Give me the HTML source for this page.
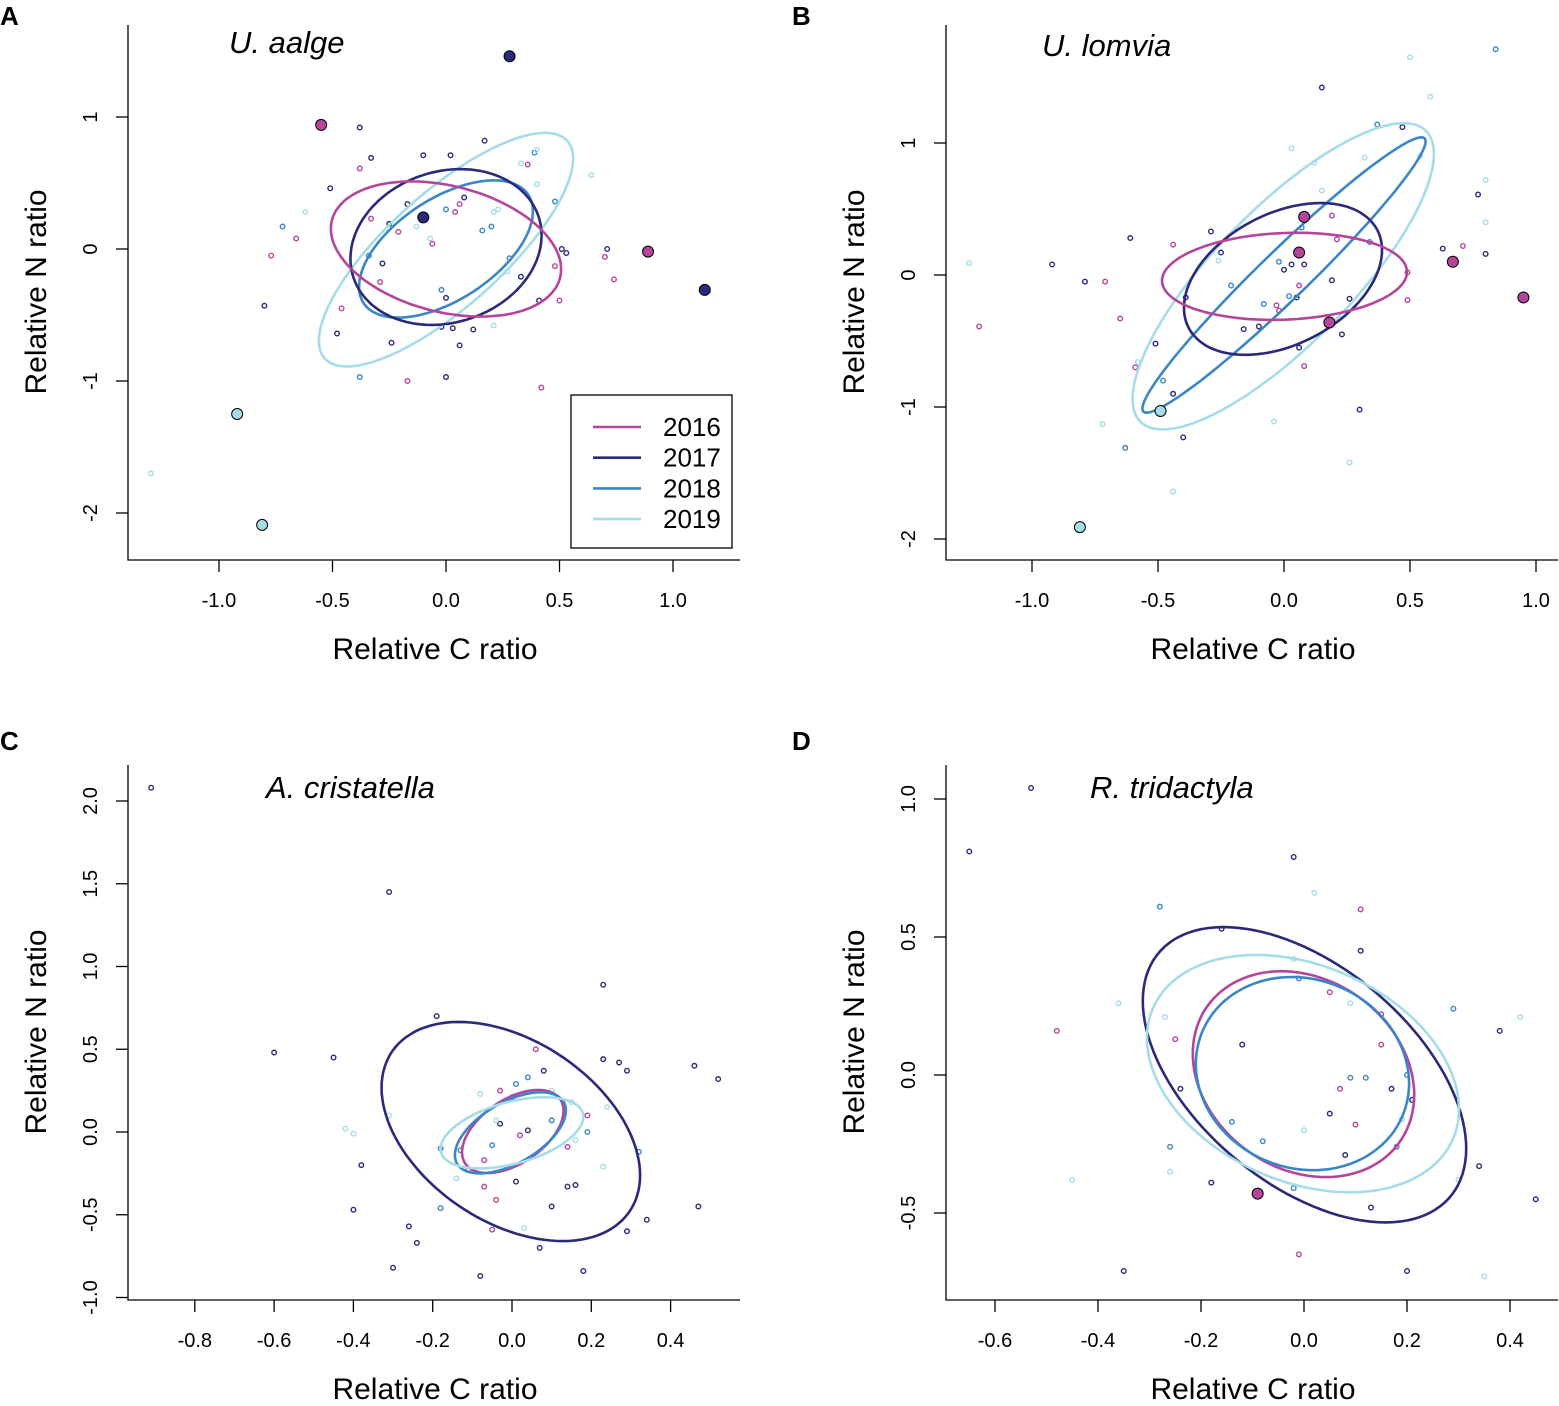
<!DOCTYPE html>
<html><head><meta charset="utf-8"><style>
body{margin:0;background:#fff;}
svg text{font-family:"Liberation Sans",Arial,sans-serif;fill:#000;}
</style></head><body>
<svg id="chart" width="1559" height="1401" viewBox="0 0 1559 1401" xmlns="http://www.w3.org/2000/svg"></svg>
<script>
const years = ["2016","2017","2018","2019"];
const colors = ["#B5459B","#2B2A7A","#3A86C8","#A6DCE8"];

// Panel A data
const aPts2016 = [[-0.77,-0.05],[-0.66,0.08],[-0.38,0.61],[-0.29,-0.25],[-0.33,0.23],[-0.21,0.13],[-0.17,-1.0],[0.04,0.28],[0.06,0.34],[0.36,0.64],[0.48,-0.13],[0.50,-0.39],[0.42,-1.05],[0.70,-0.06],[0.74,-0.23],[-0.06,0.04],[-0.46,-0.45]];
const aPts2017 = [[-0.38,0.92],[-0.33,0.69],[-0.51,0.46],[-0.80,-0.43],[-0.48,-0.64],[-0.28,-0.11],[-0.25,0.19],[-0.17,0.34],[-0.10,0.71],[0.02,0.71],[0,-0.37],[-0.02,-0.59],[0.03,-0.60],[0.06,-0.73],[0.12,-0.61],[0.17,0.82],[-0.24,-0.71],[0,-0.97],[0.33,-0.21],[0.51,0],[0.53,-0.03],[0.71,0],[0.41,-0.39],[0.08,0.39]];
const aPts2018 = [[-0.72,0.17],[-0.38,-0.97],[-0.02,-0.31],[0.16,0.14],[0.20,0.17],[0.39,0.73],[0.48,0.36],[-0.34,-0.05],[0,0.30],[0.28,-0.07]];
const aPts2019 = [[-1.30,-1.70],[-0.62,0.28],[-0.13,0.17],[0.21,0.28],[0.23,0.30],[0.33,0.65],[0.40,0.49],[0.64,0.56],[0.40,0.75],[0.21,-0.58],[0.27,-0.17],[-0.07,0.08]];
const aBigX = [-0.55,0.28,-0.10,0.89,1.14,-0.92,-0.81];
const aBigY = [0.94,1.46,0.24,-0.02,-0.31,-1.25,-2.09];
const aBigYear = [0,1,1,0,1,3,3];
const aEllCx = [0,0,0,0], aEllCy = [0,0.015,0,-0.005], aEllSx = [0.507,0.421,0.383,0.56], aEllSy = [0.512,0.59,0.52,0.885], aEllRho = [-0.3,0.15,0.55,0.78];

// Panel B data
const bPts2016 = [[-1.21,-0.39],[-0.71,-0.05],[-0.65,-0.33],[-0.44,0.23],[-0.03,-0.23],[-0.02,-0.27],[0.06,-0.08],[0.08,-0.69],[0.19,0.45],[0.21,0.27],[0.49,0.02],[0.49,-0.19],[0.71,0.22],[-0.59,-0.70]];
const bPts2017 = [[0.15,1.42],[-0.92,0.08],[-0.79,-0.05],[-0.61,0.28],[-0.51,-0.52],[-0.44,-0.90],[-0.40,-1.23],[-0.39,-0.17],[-0.29,0.33],[-0.25,0.17],[-0.16,-0.41],[-0.10,-0.39],[0,0.04],[0.03,0.08],[0.08,0.08],[0.05,-0.17],[0.06,-0.55],[0.19,-0.04],[0.26,-0.18],[0.23,-0.45],[0.30,-1.02],[0.47,1.12],[0.63,0.20],[0.77,0.61],[0.80,0.16]];
const bPts2018 = [[0.84,1.71],[-0.63,-1.31],[-0.48,-0.80],[-0.21,-0.08],[-0.08,-0.22],[0.02,-0.16],[-0.02,0.10],[0.07,0.36],[0.34,0.25],[0.37,1.14]];
const bPts2019 = [[-1.25,0.09],[-0.72,-1.13],[-0.44,-1.64],[-0.04,-1.11],[0.03,0.96],[0.12,0.85],[0.15,0.64],[0.32,0.89],[0.26,-1.42],[0.50,1.65],[0.58,1.35],[0.54,0.90],[0.80,0.72],[0.80,0.40],[-0.26,0.11],[-0.58,-0.66]];
const bBigX = [0.08,0.06,0.18,0.67,0.95,-0.49,-0.81];
const bBigY = [0.44,0.17,-0.36,0.10,-0.17,-1.03,-1.91];
const bBigYear = [0,0,0,0,0,3,3];
const bEllCx = [0.002,-0.004,0,-0.003], bEllCy = [-0.01,-0.03,0,-0.01], bEllSx = [0.486,0.393,0.562,0.598], bEllSy = [0.33,0.575,1.043,1.16], bEllRho = [0.1,0.38,0.97,0.8];

// Panel C data
const cPts2016 = [[0.06,0.50],[-0.04,-0.41],[-0.07,-0.33],[-0.11,-0.23],[-0.03,0.25],[0.19,0.10],[-0.05,-0.59],[0.14,-0.09],[0.02,-0.02],[-0.07,-0.17]];
const cPts2017 = [[-0.91,2.08],[-0.31,1.45],[-0.60,0.48],[-0.45,0.45],[-0.19,0.70],[0.23,0.89],[0.23,0.44],[0.27,0.42],[0.29,0.37],[0.46,0.40],[0.52,0.32],[0.47,-0.45],[0.34,-0.53],[0.29,-0.60],[0.18,-0.84],[0.07,-0.70],[-0.08,-0.87],[-0.30,-0.82],[-0.24,-0.67],[-0.26,-0.57],[-0.40,-0.47],[-0.38,-0.20],[0.10,-0.45],[0.16,-0.32],[0.14,-0.33],[0.08,0.37],[0.01,-0.30],[-0.03,0.05],[0.04,0.01]];
const cPts2018 = [[-0.18,-0.46],[-0.18,-0.10],[-0.05,-0.08],[0.04,0.33],[0.01,0.29],[0.19,0],[0.32,-0.12],[0.10,0.07],[-0.13,-0.11],[0,0.21]];
const cPts2019 = [[-0.42,0.02],[-0.40,-0.01],[-0.31,0.10],[0.03,-0.58],[0.23,-0.21],[0.24,0.15],[-0.08,0.23],[0.15,0.18],[-0.14,-0.28],[0.10,0.25],[-0.04,0.07],[0.16,-0.05]];
const cBigX = [], cBigY = [], cBigYear = [];
const cEllCx = [0.002,-0.003,-0.004,0], cEllCy = [0.003,0.003,-0.005,-0.005], cEllSx = [0.128,0.326,0.14,0.18], cEllSy = [0.251,0.662,0.245,0.215], cEllRho = [0.5,-0.4,0.55,0.45];

// Panel D data
const dPts2016 = [[-0.48,0.16],[-0.25,0.13],[-0.01,-0.65],[0.05,0.30],[0.11,0.60],[0.07,-0.05],[0.10,-0.18],[0.15,0.11],[0.15,0.22]];
const dPts2017 = [[-0.53,1.04],[-0.65,0.81],[-0.02,0.79],[-0.16,0.53],[0.11,0.45],[-0.12,0.11],[-0.24,-0.05],[-0.18,-0.39],[-0.35,-0.71],[0.05,-0.14],[0.08,-0.29],[0.13,-0.48],[0.17,-0.05],[0.21,-0.09],[0.20,-0.71],[0.34,-0.33],[0.38,0.16],[0.45,-0.45]];
const dPts2018 = [[-0.28,0.61],[-0.26,-0.26],[-0.14,-0.17],[-0.08,-0.24],[-0.01,0.35],[0.09,-0.01],[0.12,-0.01],[0.20,0],[0.18,-0.26],[-0.02,-0.41],[0.29,0.24]];
const dPts2019 = [[-0.36,0.26],[-0.27,0.21],[-0.26,-0.35],[-0.45,-0.38],[0.02,0.66],[0,-0.20],[0.09,0.26],[0.19,-0.16],[0.30,-0.38],[0.35,-0.73],[0.42,0.21],[-0.02,0.42]];
const dBigX = [-0.09], dBigY = [-0.43], dBigYear = [0];
const dEllCx = [-0.001,0.001,-0.003,-0.002], dEllCy = [0.003,0.001,0.005,0.005], dEllSx = [0.215,0.314,0.207,0.303], dEllSy = [0.373,0.535,0.35,0.43], dEllRho = [-0.2,-0.5,-0.1,-0.3];

const aXTicks = [-1.0,-0.5,0.0,0.5,1.0], aYTicks = [-2,-1,0,1];
const bXTicks = [-1.0,-0.5,0.0,0.5,1.0], bYTicks = [-2,-1,0,1];
const cXTicks = [-0.8,-0.6,-0.4,-0.2,0.0,0.2,0.4], cYTicks = [-1.0,-0.5,0.0,0.5,1.0,1.5,2.0];
const dXTicks = [-0.6,-0.4,-0.2,0.0,0.2,0.4], dYTicks = [-0.5,0.0,0.5,1.0];

const svg = document.getElementById('chart');
const NS = "http://www.w3.org/2000/svg";
function mk(tag, attrs, parent){
  const e = document.createElementNS(NS, tag);
  for (const k in attrs) e.setAttribute(k, attrs[k]);
  (parent||svg).appendChild(e);
  return e;
}

const panels = [
 {id:'a', letter:'A', title:'U. aalge', lx:0, ly:15, tx:229, ty:53, x0:446, xs:227, y0:249, ys:132, ax:128, ay:560, axR:740, ayT:25,
  pts:[aPts2016,aPts2017,aPts2018,aPts2019], bx:aBigX, by:aBigY, byr:aBigYear, ecx:aEllCx, ecy:aEllCy, esx:aEllSx, esy:aEllSy, erho:aEllRho, xt:aXTicks, yt:aYTicks, dec:1, ydec:0, order:[3,2,1,0], xtitleX:435, ytitleY:292, legend:true},
 {id:'b', letter:'B', title:'U. lomvia', lx:792, ly:15, tx:1042, ty:56, x0:1284, xs:252, y0:275, ys:132, ax:946, ay:560, axR:1558, ayT:25,
  pts:[bPts2016,bPts2017,bPts2018,bPts2019], bx:bBigX, by:bBigY, byr:bBigYear, ecx:bEllCx, ecy:bEllCy, esx:bEllSx, esy:bEllSy, erho:bEllRho, xt:bXTicks, yt:bYTicks, dec:1, ydec:0, order:[3,2,1,0], xtitleX:1253, ytitleY:292},
 {id:'c', letter:'C', title:'A. cristatella', lx:0, ly:740, tx:266, ty:798, x0:512, xs:396.5, y0:1132, ys:165.5, ax:128, ay:1300, axR:740, ayT:765,
  pts:[cPts2016,cPts2017,cPts2018,cPts2019], bx:cBigX, by:cBigY, byr:cBigYear, ecx:cEllCx, ecy:cEllCy, esx:cEllSx, esy:cEllSy, erho:cEllRho, xt:cXTicks, yt:cYTicks, dec:1, ydec:1, order:[1,0,2,3], xtitleX:435, ytitleY:1032},
 {id:'d', letter:'D', title:'R. tridactyla', lx:792, ly:740, tx:1090, ty:798, x0:1304, xs:515, y0:1075, ys:276, ax:946, ay:1300, axR:1558, ayT:765,
  pts:[dPts2016,dPts2017,dPts2018,dPts2019], bx:dBigX, by:dBigY, byr:dBigYear, ecx:dEllCx, ecy:dEllCy, esx:dEllSx, esy:dEllSy, erho:dEllRho, xt:dXTicks, yt:dYTicks, dec:1, ydec:1, order:[1,3,0,2], xtitleX:1253, ytitleY:1032}
];

panels.forEach(p => {
  const g = mk('g', {});
  
  
  const X = v => p.x0 + v * p.xs;
  const Y = v => p.y0 - v * p.ys;

  const letter = mk('text', {x:p.lx, y:p.ly + 10, 'font-size':26, 'font-weight':'bold'}, g);
  letter.textContent = p.letter;
  
  

  const title = mk('text', {x:p.tx, y:p.ty, 'font-size':31, 'font-style':'italic'}, g);
  title.textContent = p.title;
  
  

  const axes = mk('path', {d:`M${p.ax} ${p.ayT} V${p.ay} H${p.axR}`, fill:'none', stroke:'#000', 'stroke-width':1.3}, g);
  
  

  p.xt.forEach(t => {
    const tk = mk('line', {x1:X(t), x2:X(t), y1:p.ay, y2:p.ay + 12, stroke:'#000', 'stroke-width':1.3}, g);
    
    
    const lb = mk('text', {x:X(t), y:p.ay + 47, 'font-size':20, 'text-anchor':'middle'}, g);
    lb.textContent = t.toFixed(p.dec);
    
    
  });
  p.yt.forEach(t => {
    const tk = mk('line', {x1:p.ax - 12, x2:p.ax, y1:Y(t), y2:Y(t), stroke:'#000', 'stroke-width':1.3}, g);
    
    
    const lx = p.ax - 31;
    const lb = mk('text', {x:lx, y:Y(t), 'font-size':20, 'text-anchor':'middle', transform:`rotate(-90 ${lx} ${Y(t)})`}, g);
    lb.textContent = t.toFixed(p.ydec);
    
    
  });
  const xtl = mk('text', {x:p.xtitleX, y:p.ay + 99, 'font-size':30, 'text-anchor':'middle'}, g);
  xtl.textContent = 'Relative C ratio';
  
  
  const yx = p.ax - 82;
  const ytl = mk('text', {x:yx, y:p.ytitleY, 'font-size':30, 'text-anchor':'middle', transform:`rotate(-90 ${yx} ${p.ytitleY})`}, g);
  ytl.textContent = 'Relative N ratio';
  
  

  p.pts.forEach((arr, yi) => {
    arr.forEach(pt => {
      const c = mk('circle', {cx:X(pt[0]), cy:Y(pt[1]), r:2.3, fill:'none', stroke:colors[yi], 'stroke-width':1.4}, g);
      
      
    });
  });

  p.order.forEach(i => {
    let d = '';
    const r2 = Math.sqrt(1 - p.erho[i] * p.erho[i]);
    for (let k = 0; k <= 120; k++) {
      const t = k / 120 * 2 * Math.PI;
      const vx = p.ecx[i] + p.esx[i] * Math.cos(t);
      const vy = p.ecy[i] + p.esy[i] * (p.erho[i] * Math.cos(t) + r2 * Math.sin(t));
      d += (k ? 'L' : 'M') + X(vx).toFixed(1) + ' ' + Y(vy).toFixed(1);
    }
    const e = mk('path', {d:d + 'Z', fill:'none', stroke:colors[i], 'stroke-width':2.6}, g);
    
    
  });

  p.bx.forEach((v, k) => {
    const c = mk('circle', {cx:X(v), cy:Y(p.by[k]), r:5.5, fill:colors[p.byr[k]], stroke:'#000', 'stroke-width':1}, g);
    
    
  });

  if (p.legend) {
    const lg = mk('g', {}, g);
    
    
    const box = mk('rect', {x:571, y:395, width:161, height:153, fill:'#fff', stroke:'#000', 'stroke-width':1.3}, lg);
    
    
    years.forEach((yr, i) => {
      const yy = 427 + i * 30.7;
      const ln = mk('line', {x1:593, x2:641, y1:yy, y2:yy, stroke:colors[i], 'stroke-width':2.6}, lg);
      
      
      const tx = mk('text', {x:663, y:yy + 9, 'font-size':26}, lg);
      tx.textContent = yr;
      
      
    });
  }
});
</script>
</body></html>
